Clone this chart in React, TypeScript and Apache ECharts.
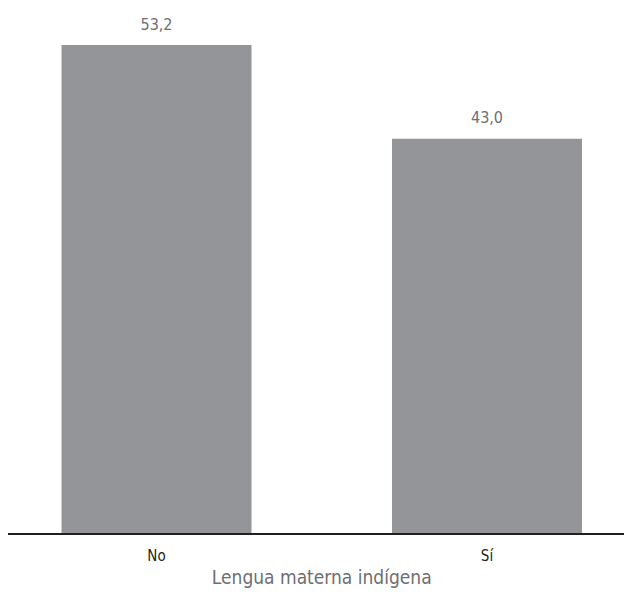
import React, { useEffect, useRef } from "react";
import * as echarts from "echarts";

const categories = ["No", "Sí"];
const values = [53.2, 43.0];
const axisTitle = "Lengua materna indígena";

const FONT = "'Liberation Sans Narrow', 'DejaVu Sans Condensed', 'Noto Sans', sans-serif";

export default function App() {
  const ref = useRef<HTMLDivElement>(null);
  useEffect(() => {
    if (!ref.current) return;
    const chart = echarts.init(ref.current, null, { renderer: "svg" });
    chart.setOption({
      animation: false,
      backgroundColor: "#ffffff",
      grid: {
        left: -8.75,
        width: 661,
        top: 45,
        height: 489,
        containLabel: false,
        outerBoundsMode: "none",
      },
      xAxis: {
        type: "category",
        data: categories,
        axisLine: { show: false },
        axisTick: { show: false },
        axisLabel: { color: "#231f20", fontSize: 15, margin: 14, fontFamily: FONT },
        name: axisTitle,
        nameLocation: "middle",
        nameGap: 33,
        nameTextStyle: { color: "#6d6e71", fontSize: 19, fontFamily: FONT },
      },
      yAxis: {
        type: "value",
        min: 0,
        max: "dataMax",
        show: false,
        splitLine: { show: false },
      },
      series: [
        {
          type: "bar",
          data: values,
          barWidth: 190,
          itemStyle: { color: "#939598" },
          label: {
            show: true,
            position: "top",
            distance: 13,
            color: "#6d6e71",
            fontSize: 16,
            fontFamily: FONT,
            formatter: (p: any) => Number(p.value).toFixed(1).replace(".", ","),
          },
        },
      ],
      graphic: [
        {
          type: "line",
          shape: { x1: 8, y1: 534, x2: 624, y2: 534 },
          style: { stroke: "#231f20", lineWidth: 2 },
          z: 100,
        },
      ],
    });
    return () => chart.dispose();
  }, []);
  return (
    <div
      ref={ref}
      style={{ position: "fixed", left: 0, top: 0, width: 624, height: 598, background: "#fff" }}
    />
  );
}
